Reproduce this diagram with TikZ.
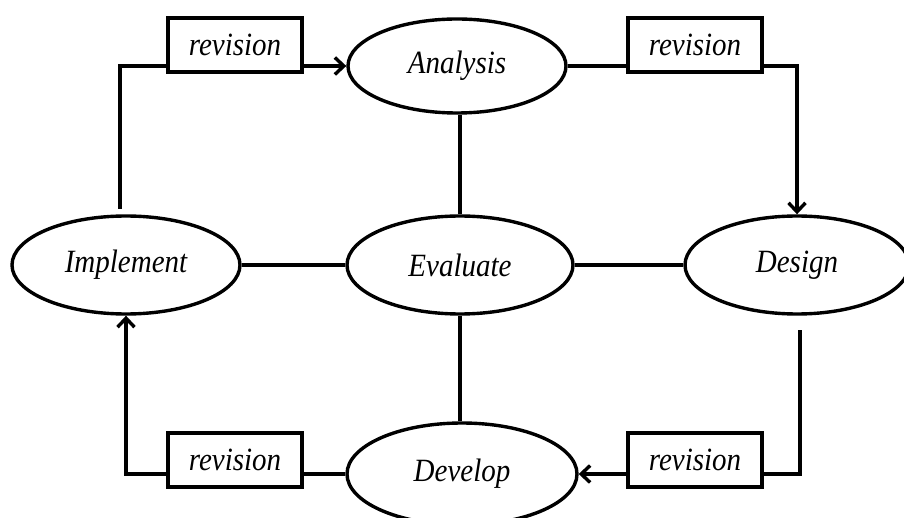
\documentclass[tikz,border=0pt]{standalone}
\usepackage{fontspec}
\usepackage{graphicx}
\setmainfont{Liberation Serif}
\usetikzlibrary{shapes.geometric,arrows.meta}
\newcommand\tallText[1]{\scalebox{1}[1.12]{#1}}
\begin{document}
\begin{tikzpicture}[x=1pt,y=-1pt,
  every node/.style={font=\fontsize{29}{31}\selectfont\itshape},
  phase/.style={draw,ellipse,line width=3.4pt,inner sep=0pt},
  revbox/.style={draw,rectangle,line width=3.4pt,minimum width=134pt,minimum height=54pt,inner sep=0pt},
  conn/.style={line width=3.4pt},
  arr/.style={conn,-{Straight Barb[length=9pt,width=17pt]}}]
\useasboundingbox (0,0) rectangle (904,518);
\clip (0,0) rectangle (904,518);
\node[phase,minimum width=218pt,minimum height=94pt] (analysis) at (457,66) {\tallText{Analysis}};
\node[phase,minimum width=226pt,minimum height=98pt] (evaluate) at (460,265) {\tallText{Evaluate}};
\node[phase,minimum width=224pt,minimum height=98pt] (design) at (797,265) {\tallText{Design}};
\node[phase,minimum width=228pt,minimum height=98pt] (implement) at (126,265) {\tallText{Implement}};
\node[phase,minimum width=230pt,minimum height=102pt] (develop) at (462,474) {\tallText{Develop}};
\node[revbox] (r1) at (235,45) {\tallText{revision}};
\node[revbox] (r2) at (695,45) {\tallText{revision}};
\node[revbox] (r3) at (235,460) {\tallText{revision}};
\node[revbox] (r4) at (695,460) {\tallText{revision}};
\coordinate (tl) at (120,209);
\coordinate (br) at (800,330);
% top-left loop
\draw[conn] (tl) |- (r1.west |- analysis.west);
\draw[arr] (r1.east |- analysis.west) -- (analysis.west);
% top-right loop
\draw[conn] (analysis.east) -- (r2.west |- analysis.east);
\draw[arr] (r2.east |- analysis.east) -| (design.north);
% bottom-right loop
\draw[conn] (br) |- (r4.east |- develop.east);
\draw[arr] (r4.west |- develop.east) -- (develop.east);
% bottom-left loop
\draw[conn] (r3.east |- develop.west) -- (develop.west);
\draw[arr] (r3.west |- develop.west) -| (implement.south);
% spokes
\draw[conn] (evaluate.north) -- (evaluate.north |- analysis.south);
\draw[conn] (evaluate.south) -- (evaluate.south |- develop.north);
\draw[conn] (implement.east) -- (evaluate.west);
\draw[conn] (evaluate.east) -- (design.west);
\end{tikzpicture}
\end{document}
